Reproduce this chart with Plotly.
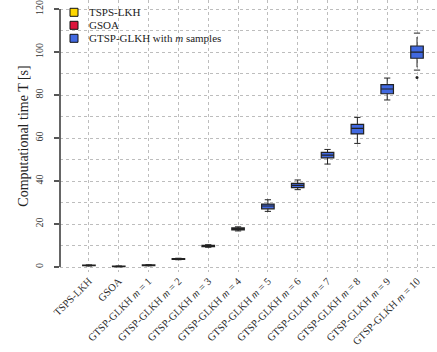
import plotly.graph_objects as go

# Categories and computation-time statistics (seconds)
categories = ["TSPS-LKH", "GSOA"] + [f"GTSP-GLKH <i>m</i> = {m}" for m in range(1, 11)]
groups = ["TSPS-LKH", "GSOA"] + ["GTSP-GLKH"] * 10

lower = [0.5, 0.1, 0.6, 3.4, 9.2, 16.8, 25.9, 36.0, 47.9, 57.5, 77.7, 91.6]
q1 = [0.6, 0.2, 0.7, 3.6, 9.5, 17.3, 27.1, 36.9, 50.8, 61.9, 80.6, 97.1]
median = [0.8, 0.3, 0.9, 3.8, 9.8, 17.8, 28.4, 38.0, 52.1, 64.5, 82.8, 100.0]
q3 = [0.9, 0.4, 1.0, 3.9, 10.1, 18.2, 29.3, 38.9, 53.3, 66.4, 84.8, 102.8]
upper = [1.0, 0.5, 1.1, 4.1, 10.4, 18.7, 31.3, 40.5, 54.7, 69.6, 87.9, 108.8]

outlier_x = [11]
outlier_y = [88.2]

legend_labels = ["TSPS-LKH", "GSOA", "GTSP-GLKH with <i>m</i> samples"]
colors = {"TSPS-LKH": "#FFD700", "GSOA": "#DC143C", "GTSP-GLKH": "#4169E1"}
legend_colors = [colors["TSPS-LKH"], colors["GSOA"], colors["GTSP-GLKH"]]

SERIF = "Liberation Serif, Times New Roman, serif"
GRID = "#bdbdbd"
BOX_W = 0.42
CAP_W = BOX_W / 2

fig = go.Figure()

# Boxes (whiskers drawn separately so they can be dashed)
for i, g in enumerate(groups):
    fig.add_trace(go.Box(
        x=[i], q1=[q1[i]], median=[median[i]], q3=[q3[i]],
        lowerfence=[q1[i]], upperfence=[q3[i]],
        width=BOX_W, fillcolor=colors[g],
        line=dict(color="#222222", width=1.2),
        whiskerwidth=0, showlegend=False, hoverinfo="skip",
    ))

# Dashed whiskers and solid caps
wx, wy, cx, cy = [], [], [], []
for i in range(len(categories)):
    wx += [i, i, None, i, i, None]
    wy += [q3[i], upper[i], None, q1[i], lower[i], None]
    cx += [i - CAP_W / 2, i + CAP_W / 2, None, i - CAP_W / 2, i + CAP_W / 2, None]
    cy += [upper[i], upper[i], None, lower[i], lower[i], None]
fig.add_trace(go.Scatter(x=wx, y=wy, mode="lines", showlegend=False, hoverinfo="skip",
                         line=dict(color="#222222", width=1, dash="dash")))
fig.add_trace(go.Scatter(x=cx, y=cy, mode="lines", showlegend=False, hoverinfo="skip",
                         line=dict(color="#222222", width=1)))
fig.add_trace(go.Scatter(x=outlier_x, y=outlier_y, mode="markers", showlegend=False,
                         marker=dict(color="#222222", size=3), hoverinfo="skip"))

# Plot area geometry in pixels (used for the hand-drawn legend and y-axis line)
W, H = 437, 352
L, R, T, B = 60, 0, 0, 80
pw, ph = W - L - R, H - T - B

def px_x(p):
    return (p - L) / pw

def px_y(p):
    return 1 - (p - T) / ph

shapes = []
annotations = []
for k, (lab, col) in enumerate(zip(legend_labels, legend_colors)):
    yc = 12.3 + k * 13
    shapes.append(dict(type="rect", xref="paper", yref="paper",
                       x0=px_x(70), x1=px_x(78), y0=px_y(yc + 4), y1=px_y(yc - 4),
                       fillcolor=col, line=dict(color="#111111", width=1)))
    annotations.append(dict(xref="paper", yref="paper", x=px_x(87), y=px_y(yc),
                            text=lab, showarrow=False, xanchor="left", yanchor="middle",
                            font=dict(family=SERIF, size=11, color="#222222")))

# y-axis line spanning only the labelled range
shapes.append(dict(type="line", xref="paper", yref="y", x0=0, x1=0, y0=0, y1=120,
                   line=dict(color="#555555", width=1.8)))

fig.update_layout(
    width=W, height=H,
    margin=dict(l=L, r=R, t=T, b=B),
    plot_bgcolor="white", paper_bgcolor="white",
    shapes=shapes, annotations=annotations,
    showlegend=False,
    xaxis=dict(
        tickmode="array", tickvals=list(range(len(categories))), ticktext=categories,
        tickangle=-45, range=[-0.97, 11.67],
        showgrid=True, gridcolor=GRID, griddash="dot", gridwidth=1,
        zeroline=False, showline=False, ticks="",
        tickfont=dict(family=SERIF, size=10.5, color="#2a2a2a"),
    ),
    yaxis=dict(
        range=[-2.3, 124.2], tickmode="array", tickvals=[0, 20, 40, 60, 80, 100, 120],
        tickangle=-90, ticks="outside", ticklen=5, tickcolor="#555555", tickwidth=1.8,
        ticklabelstandoff=7,
        showgrid=True, gridcolor=GRID, griddash="dot", gridwidth=1,
        minor=dict(dtick=10, tick0=0, showgrid=True, gridcolor=GRID, griddash="dot", ticks=""),
        zeroline=False, showline=False,
        tickfont=dict(family=SERIF, size=10, color="#333333"),
        title=dict(text="Computational time T [s]", standoff=2,
                   font=dict(family=SERIF, size=14, color="#222222")),
    ),
)

fig.write_html("out.html")
